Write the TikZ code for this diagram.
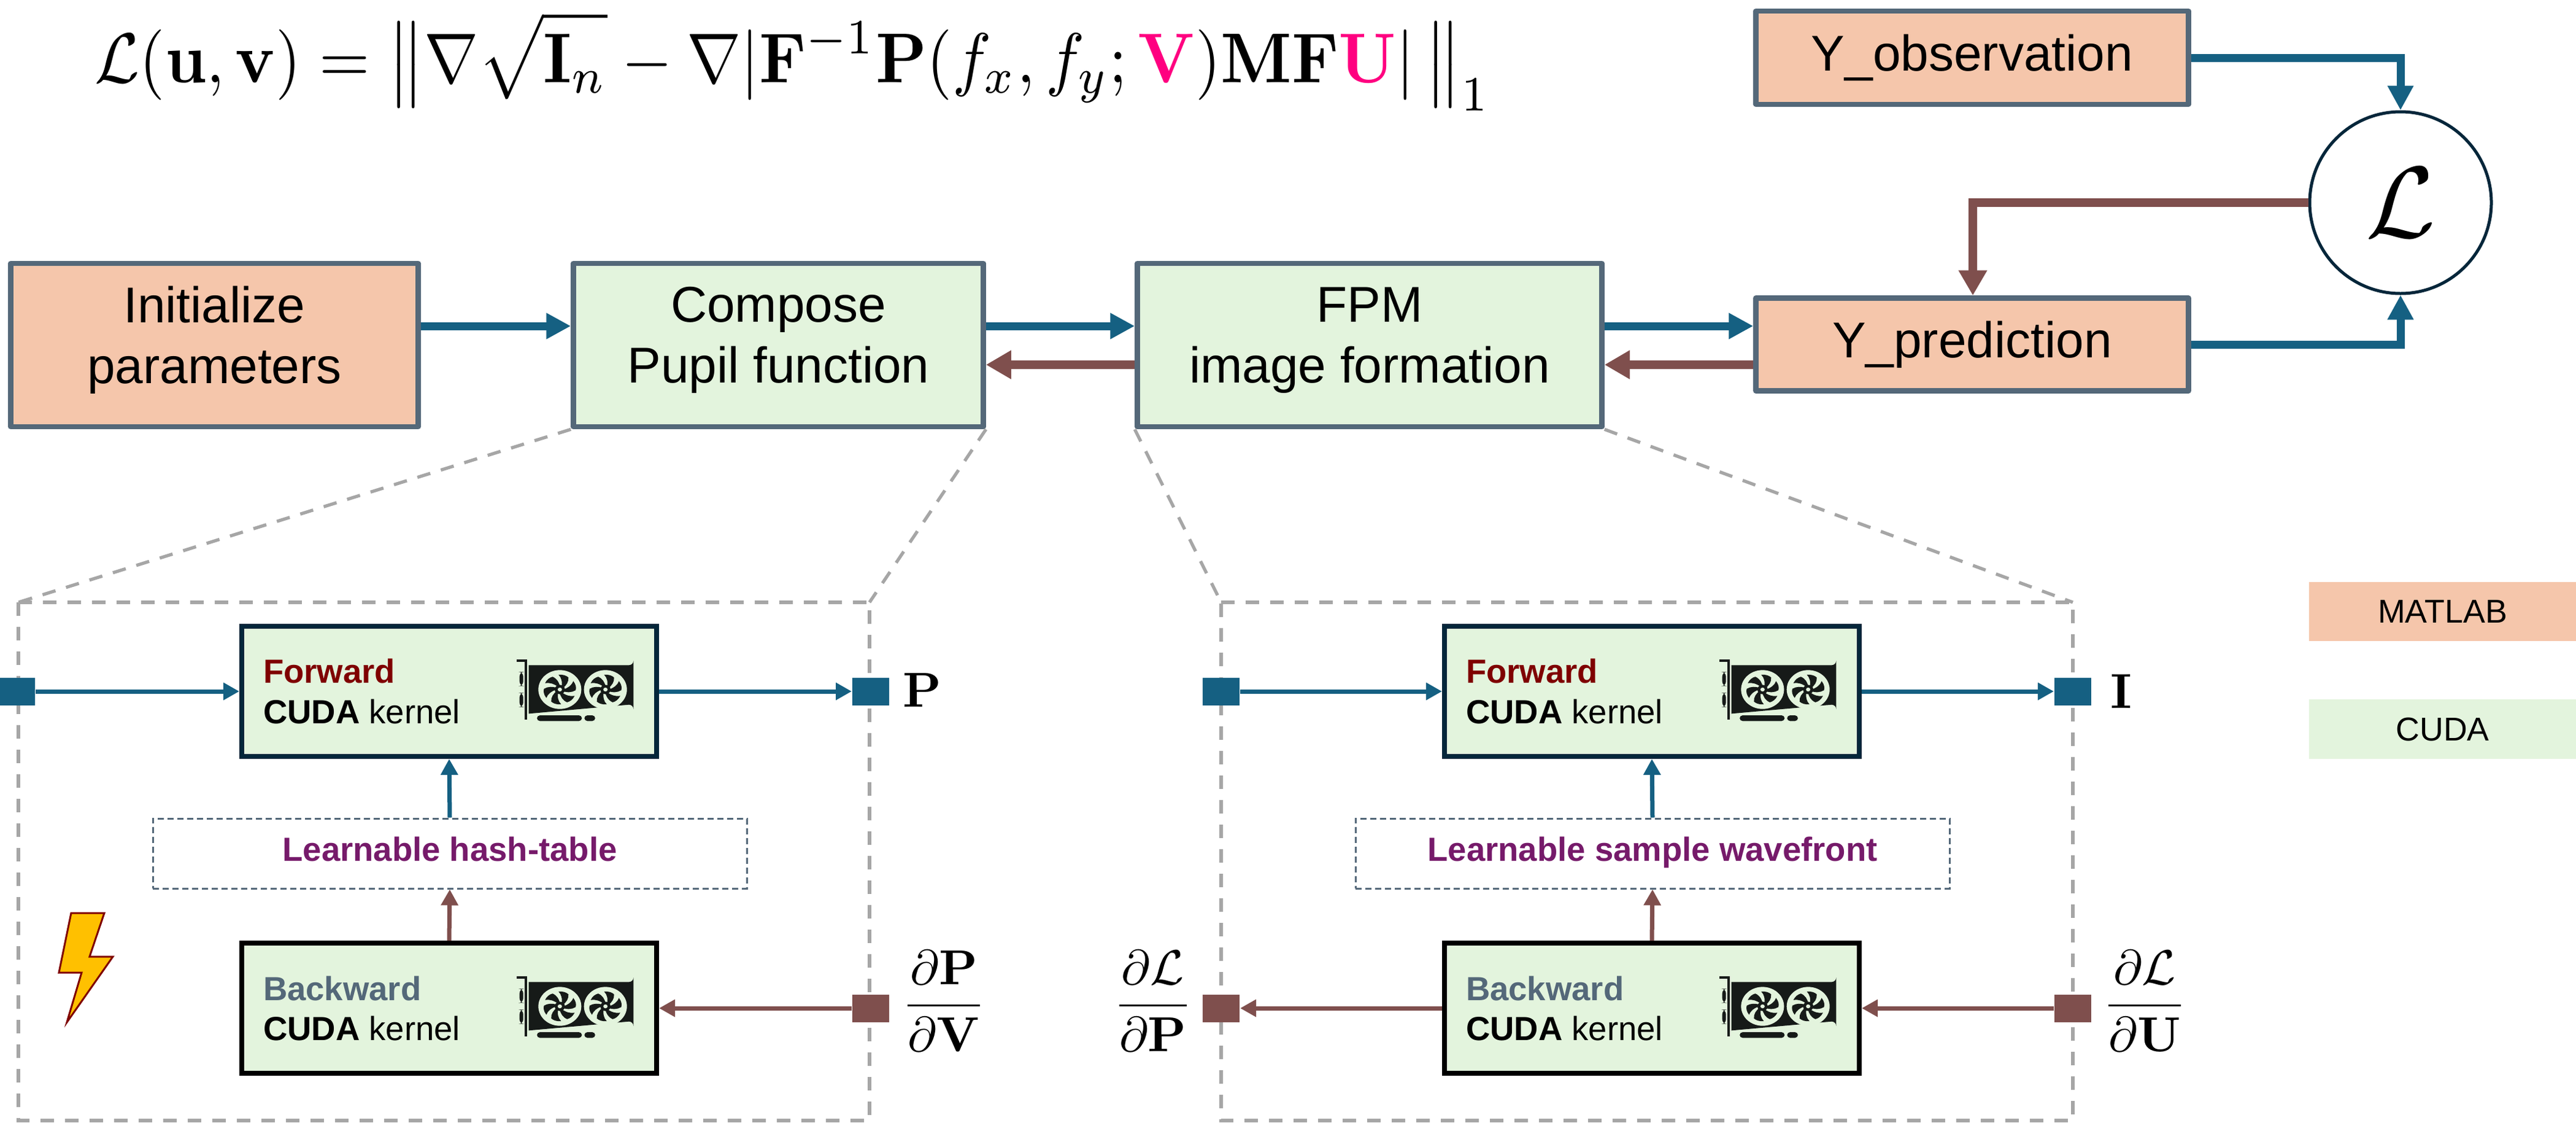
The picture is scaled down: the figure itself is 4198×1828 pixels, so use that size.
\documentclass[tikz,border=0pt]{standalone}
\usepackage{amsmath,amssymb,bm}
\usepackage[no-math]{fontspec}
\setmainfont{Liberation Sans}
\usetikzlibrary{arrows.meta,calc}
\definecolor{cblue}{HTML}{156082}
\definecolor{cbrown}{HTML}{7F4F4D}
\definecolor{cgreen}{HTML}{E3F4DD}
\definecolor{corange}{HTML}{F5C6AB}
\definecolor{cslate}{HTML}{546879}
\definecolor{cnavy}{HTML}{04263A}
\definecolor{cdred}{HTML}{7F0000}
\definecolor{cpurple}{HTML}{761A6A}
\definecolor{cgray}{HTML}{A6A6A6}
\definecolor{cpink}{HTML}{FF0080}
\definecolor{cgpu}{HTML}{161A18}
\definecolor{cbolt}{HTML}{FFC000}
\newcommand{\dn}{\rule[-6.6pt]{0pt}{0pt}}
\tikzset{
  size/.style 2 args={minimum width=#1*0.2pt,minimum height=#2*0.2pt,inner sep=0pt},
  big/.style={font=\fontsize{16.4}{19.8}\selectfont,align=center},
  small/.style={font=\fontsize{10.9}{13}\selectfont,anchor=base west,inner sep=0pt},
  mainbox/.style={draw=cslate,line width=1.7pt,line join=round},
  matlab/.style={mainbox,fill=corange},
  cuda/.style={mainbox,fill=cgreen},
  fwd/.style={draw=cnavy,fill=cgreen,line width=1.6pt},
  bwd/.style={draw=black,fill=cgreen,line width=1.6pt},
  learn/.style={draw=cslate,dash pattern=on 2pt off 1.2pt,line width=0.6pt,size={968}{114},text height=8pt,text depth=3pt,font=\fontsize{10.9}{13}\selectfont\bfseries,text=cpurple},
  zoomline/.style={draw=cgray,line width=1.05pt,dash pattern=on 4.4pt off 3.6pt},
  bluethick/.style={draw=cblue,line width=2.6pt,-{Triangle[length=8pt,width=8pt]}},
  brownthick/.style={draw=cbrown,line width=2.9pt,-{Triangle[length=8.2pt,width=8.8pt]}},
  bluethin/.style={draw=cblue,line width=1.4pt,-{Triangle[length=5.2pt,width=5.4pt]}},
  brownthin/.style={draw=cbrown,line width=1.4pt,-{Triangle[length=5.2pt,width=5.4pt]}},
  bluesq/.style={fill=cblue,size={60}{45}},
  brownsq/.style={fill=cbrown,size={60}{45}},
  mathlab/.style={inner sep=0pt,scale=1.6},
}
\newcommand{\gpufan}[2]{%
  \begin{scope}[shift={(#1,#2)},xscale=1.05,yscale=0.95]
    \fill[cgreen] (0,0) circle (100);
    \foreach \a in {0,60,...,300}{
      \fill[cgpu,rotate=\a] (8,-12) .. controls (12,-40) and (8,-60) .. (-6,-76)
        .. controls (15,-78) and (30,-72) .. (40,-62)
        .. controls (42,-40) and (30,-20) .. (12,-6) -- cycle;
    }
    \fill[cgpu] (0,0) circle (24);
    \fill[cgreen] (0,0) circle (10);
  \end{scope}}
\newcommand{\gpuicon}[2]{%
  \begin{scope}[shift={(#1,#2)},x=0.2pt/3,y=-0.2pt/3]
    \draw[cgpu,line width=0.8pt] (247,228) -- (292,228) -- (292,515);
    \fill[cgpu,rounded corners=1.5pt] (260,283) rectangle (278,352);
    \fill[cgpu,rounded corners=1.5pt] (260,385) rectangle (278,455);
    \fill[cgpu] (305,250) -- (795,250) arc[start angle=90,end angle=0,radius=22] -- (817,465) arc[start angle=0,end angle=-90,radius=22] -- (305,487) -- cycle;
    \fill[cgpu,rounded corners=1pt] (345,495) rectangle (565,523);
    \fill[cgpu,rounded corners=1pt] (577,495) rectangle (630,523);
    \gpufan{457}{369}
    \gpufan{680}{369}
  \end{scope}}
\begin{document}
\begin{tikzpicture}[x=0.2pt,y=-0.2pt]
\useasboundingbox (0,0) rectangle (4198,1828);
% formula
\node[inner sep=0pt,xscale=2.12,yscale=2.3,anchor=center] (formula) at (1292,100) {$\displaystyle \mathcal{L}(\mathbf{u},\mathbf{v})=\bigl\|\nabla\sqrt{\mathbf{I}_n}-\nabla\mathopen{|}\mathbf{F}^{-1}\mathbf{P}(f_x,f_y;\textcolor{cpink}{\mathbf{V}})\mathbf{M}\mathbf{F}\textcolor{cpink}{\mathbf{U}}\mathclose{|}\,\bigr\|_1$};
% main row
\node[matlab,size={664}{266},big] (init) at (349.5,562) {Initialize\\parameters\dn};
\node[cuda,size={668}{266},big] (comp) at (1268.5,562) {Compose\\Pupil function\dn};
\node[cuda,size={757}{266},big] (fpm) at (2232,562) {FPM\\image formation\dn};
\node[matlab,size={705}{151},big] (ypred) at (3214,561) {Y\_prediction};
\node[matlab,size={705}{152},big] (yobs) at (3214,94) {Y\_observation};
\node[circle,draw=cnavy,line width=1pt,fill=white,minimum size=296*0.2pt,inner sep=0pt] (loss) at (3912,330) {};
\node[inner sep=0pt,scale=3.3] (lossl) at (3912,330) {$\mathcal{L}$};
% level coordinates
\coordinate (lvA) at (0,531);
\coordinate (lvB) at (0,594);
\draw[bluethick] (init.east |- lvA) -- (comp.west |- lvA);
\draw[bluethick] (comp.east |- lvA) -- (fpm.west |- lvA);
\draw[bluethick] (fpm.east |- lvA) -- (ypred.west |- lvA);
\draw[brownthick] (ypred.west |- lvB) -- (fpm.east |- lvB);
\draw[brownthick] (fpm.west |- lvB) -- (comp.east |- lvB);
\draw[bluethick] (yobs.east) -| (loss.north);
\draw[bluethick] (ypred.east) -| (loss.south);
\coordinate (ylossin) at (3215,330);
\draw[brownthick] (loss.west) -- (ylossin) -- (ylossin |- ypred.north);
% zoom frames
\coordinate (frLtl) at (30,981);
\coordinate (frLtr) at (1417,981);
\coordinate (frLbr) at (1417,1825);
\coordinate (frLbl) at (30,1825);
\coordinate (frRtl) at (1990,981);
\coordinate (frRtr) at (3378,981);
\coordinate (frRbr) at (3378,1825);
\coordinate (frRbl) at (1990,1825);
\draw[zoomline] (frLtl) -- (frLtr) -- (frLbr) -- (frLbl) -- cycle;
\draw[zoomline] (frRtl) -- (frRtr) -- (frRbr) -- (frRbl) -- cycle;
\draw[zoomline] (comp.south west) -- (frLtl);
\draw[zoomline] (comp.south east) -- (frLtr);
\draw[zoomline] (fpm.south west) -- (frRtl);
\draw[zoomline] (fpm.south east) -- (frRtr);
% left panel
\node[fwd,size={676}{212}] (fa) at (732,1126) {};
\node[bwd,size={676}{212}] (ba) at (732,1642) {};
\node[learn] (la) at (733,1390) {Learnable hash-table};
\node[small,text=cdred] (faT) at (428,1112) {\textbf{Forward}};
\node[small] (faC) at (428,1178) {\textbf{CUDA} kernel};
\node[small,text=cslate] (baT) at (428,1629) {\textbf{Backward}};
\node[small] (baC) at (428,1694) {\textbf{CUDA} kernel};
\gpuicon{760}{1000}
\gpuicon{760}{1516}
\node[bluesq] (sa) at (27,1126) {};
\node[bluesq] (sb) at (1419,1126) {};
\node[brownsq] (sc) at (1419,1642) {};
\draw[bluethin] (sa) -- (fa);
\draw[bluethin] (fa) -- (sb);
\draw[brownthin] (sc) -- (ba);
\draw[bluethin] (la.north) -- (fa.south);
\draw[brownthin] (ba.north) -- (la.south);
\node[mathlab,anchor=west] (labP) at (1470,1124) {$\mathbf{P}$};
\node[mathlab,anchor=west] (labdPV) at (1468,1630) {$\displaystyle\frac{\partial\mathbf{P}}{\partial\mathbf{V}}$};
\draw[draw=cdred,fill=cbolt,line width=0.6pt] (116,1487) -- (170,1487) -- (146,1558) -- (184,1558) -- (109,1665) -- (133,1584) -- (96,1584) -- cycle;
% right panel
\node[fwd,size={676}{212}] (fb) at (2692,1126) {};
\node[bwd,size={676}{212}] (bb) at (2692,1642) {};
\node[learn] (lb) at (2693,1390) {Learnable sample wavefront};
\node[small,text=cdred] (fbT) at (2388,1112) {\textbf{Forward}};
\node[small] (fbC) at (2388,1178) {\textbf{CUDA} kernel};
\node[small,text=cslate] (bbT) at (2388,1629) {\textbf{Backward}};
\node[small] (bbC) at (2388,1694) {\textbf{CUDA} kernel};
\gpuicon{2720}{1000}
\gpuicon{2720}{1516}
\node[bluesq] (sd) at (1990,1126) {};
\node[bluesq] (se) at (3378,1126) {};
\node[brownsq] (sf) at (1990,1642) {};
\node[brownsq] (sg) at (3378,1642) {};
\draw[bluethin] (sd) -- (fb);
\draw[bluethin] (fb) -- (se);
\draw[brownthin] (sg) -- (bb);
\draw[brownthin] (bb) -- (sf);
\draw[bluethin] (lb.north) -- (fb.south);
\draw[brownthin] (bb.north) -- (lb.south);
\node[mathlab,anchor=west] (labI) at (3438,1126) {$\mathbf{I}$};
\node[mathlab,anchor=west] (labdLU) at (3425,1630) {$\displaystyle\frac{\partial\mathcal{L}}{\partial\mathbf{U}}$};
\node[mathlab,anchor=east] (labdLP) at (1945,1630) {$\displaystyle\frac{\partial\mathcal{L}}{\partial\mathbf{P}}$};
% legend
\node[fill=corange,size={435}{96},font=\fontsize{10.75}{13}\selectfont] (lgA) at (3980.5,996) {MATLAB};
\node[fill=cgreen,size={435}{97},font=\fontsize{10.75}{13}\selectfont] (lgB) at (3980.5,1187.5) {CUDA};
\end{tikzpicture}
\end{document}
